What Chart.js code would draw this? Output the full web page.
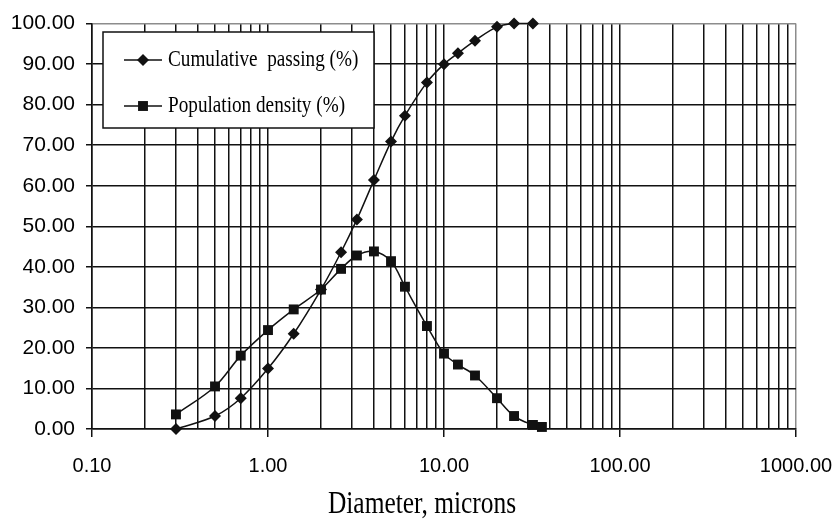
<!DOCTYPE html>
<html lang="en">
<head>
<meta charset="UTF-8">
<script src="https://cdn.jsdelivr.net/npm/chart.js"></script>
<title>Particle size distribution</title>
<style>
  html, body { margin: 0; padding: 0; background: #fff; }
  #wrap { width: 835px; height: 523px; }
</style>
</head>
<body>
<div id="wrap"><canvas id="chart"></canvas></div>
<script>
// data
const cumDiameters = [0.3, 0.5, 0.7, 1.0, 1.4, 2.0, 2.6, 3.2, 4.0, 5.0, 6.0, 8.0, 10, 12, 15, 20, 25, 32];
const cumulativePassing = [0, 3.2, 7.6, 14.9, 23.5, 34.4, 43.6, 51.7, 61.4, 70.9, 77.3, 85.5, 90.0, 92.7, 95.8, 99.2, 100, 100];
const denDiameters = [0.3, 0.5, 0.7, 1.0, 1.4, 2.0, 2.6, 3.2, 4.0, 5.0, 6.0, 8.0, 10, 12, 15, 20, 25, 32, 36];
const populationDensity = [3.6, 10.5, 18.1, 24.4, 29.5, 34.4, 39.5, 42.8, 43.8, 41.4, 35.1, 25.4, 18.6, 15.9, 13.2, 7.6, 3.2, 1.0, 0.5];

const xDecades = [0.1, 1, 10, 100, 1000];
const xDecadeLabels = ['0.10', '1.00', '10.00', '100.00', '1000.00'];
const xMultipliers = [1, 2, 3, 4, 5, 6, 7, 8, 9];
const yTickLabels = ['0.00', '10.00', '20.00', '30.00', '40.00', '50.00', '60.00', '70.00', '80.00', '90.00', '100.00'];

const seriesLabels = ['Cumulative  passing (%)', 'Population density (%)'];

const INK = '#111';
const EDGE = '#8c8c8c';
const sansFamily = "'Liberation Sans', Arial, sans-serif";
const serifFamily = "'Liberation Serif', 'Times New Roman', serif";

// gridline positions: 1..9 in each decade, then the last decade mark
const xGrid = [];
xDecades.slice(0, -1).forEach(d => xMultipliers.forEach(m => xGrid.push(+(d * m).toPrecision(3))));
xGrid.push(xDecades[xDecades.length - 1]);

function toPoints(xs, ys) {
  return xs.map((x, i) => ({ x: x, y: ys[i] }));
}

// the original's serif text is narrow, so squeeze it sideways
function narrowText(c, text, x, y, size, squeeze, align) {
  c.save();
  c.font = size + 'px ' + serifFamily;
  c.textBaseline = 'middle';
  c.textAlign = 'left';
  const w = c.measureText(text).width * squeeze;
  const left = align === 'center' ? x - w / 2 : x;
  c.translate(left, y);
  c.scale(squeeze, 1);
  c.fillText(text, 0, 0);
  c.restore();
}

// legend box drawn inside the plot like the spreadsheet original
const boxLegend = {
  id: 'boxLegend',
  afterDatasetsDraw(chart) {
    const c = chart.ctx;
    c.save();
    c.fillStyle = '#fff';
    c.strokeStyle = INK;
    c.lineWidth = 1.5;
    c.fillRect(103, 32, 271, 96);
    c.strokeRect(103, 32, 271, 96);
    const rows = [60, 106];
    chart.data.datasets.forEach((ds, i) => {
      const y = rows[i];
      c.strokeStyle = INK;
      c.lineWidth = 1.5;
      c.beginPath();
      c.moveTo(124, y);
      c.lineTo(162, y);
      c.stroke();
      c.fillStyle = INK;
      c.beginPath();
      if (ds.pointStyle === 'rectRot') {
        const r = ds.pointRadius;
        c.moveTo(143 - r, y); c.lineTo(143, y - r); c.lineTo(143 + r, y); c.lineTo(143, y + r);
      } else {
        const h = ds.pointRadius * Math.SQRT1_2;
        c.rect(143 - h, y - h, 2 * h, 2 * h);
      }
      c.closePath();
      c.fill();
      c.fillStyle = '#000';
      narrowText(c, ds.label, 168, y, 24, 0.8, 'left');
    });
    c.restore();
  }
};

// axis title sits slightly left of the plot centre in the original
const xTitle = {
  id: 'xTitle',
  afterDraw(chart) {
    const c = chart.ctx;
    c.fillStyle = '#000';
    narrowText(c, 'Diameter, microns', 422, 505, 31, 0.82, 'center');
  }
};

new Chart(document.getElementById('chart'), {
  type: 'line',
  data: {
    datasets: [{
      label: seriesLabels[0],
      data: toPoints(cumDiameters, cumulativePassing),
      borderColor: INK,
      borderWidth: 1.5,
      pointStyle: 'rectRot',
      pointRadius: 6,
      pointBackgroundColor: INK,
      pointBorderWidth: 0,
      tension: 0.35,
      clip: false,
      order: 1
    }, {
      label: seriesLabels[1],
      data: toPoints(denDiameters, populationDensity),
      borderColor: INK,
      borderWidth: 1.5,
      pointStyle: 'rect',
      pointRadius: 7,
      pointBackgroundColor: INK,
      pointBorderWidth: 0,
      tension: 0.35,
      clip: false,
      order: 0
    }]
  },
  options: {
    responsive: true,
    maintainAspectRatio: false,
    animation: false,
    layout: { padding: { left: 0, right: 39, top: 21, bottom: 33 } },
    plugins: {
      legend: { display: false },
      tooltip: { enabled: false }
    },
    scales: {
      x: {
        type: 'logarithmic',
        min: 0.1,
        max: 1000,
        afterBuildTicks: s => {
          s.ticks = xGrid.map(v => ({ value: v, major: xDecades.includes(v) }));
        },
        afterFit: s => {
          s.height = 61;
          // let the outer labels hang into the margin instead of shrinking the plot
          s.paddingLeft = 0;
          s.paddingRight = 0;
        },
        ticks: {
          autoSkip: false,
          maxRotation: 0,
          padding: 17,
          color: '#000',
          font: { family: sansFamily, size: 20 },
          callback: (v) => {
            const k = xDecades.indexOf(v);
            return k >= 0 ? xDecadeLabels[k] : '';
          }
        },
        grid: {
          color: ctx => (ctx.tick && ctx.tick.value === 1000 ? EDGE : INK),
          lineWidth: 1.5,
          tickLength: 8,
          tickColor: ctx => (ctx.tick && ctx.tick.major ? INK : 'rgba(0,0,0,0)')
        },
        border: { color: INK, width: 1.5 }
      },
      y: {
        min: 0,
        max: 100,
        afterFit: s => { s.width = 92; },
        ticks: {
          stepSize: 10,
          padding: 11,
          color: '#000',
          font: { family: sansFamily, size: 21 },
          callback: (v) => yTickLabels[Math.round(v / 10)]
        },
        grid: {
          color: ctx => (ctx.tick && ctx.tick.value === 100 ? EDGE : INK),
          lineWidth: 1.5,
          tickLength: 6,
          tickColor: INK
        },
        border: { color: INK, width: 1.5 }
      }
    }
  },
  plugins: [boxLegend, xTitle]
});
</script>
</body>
</html>
